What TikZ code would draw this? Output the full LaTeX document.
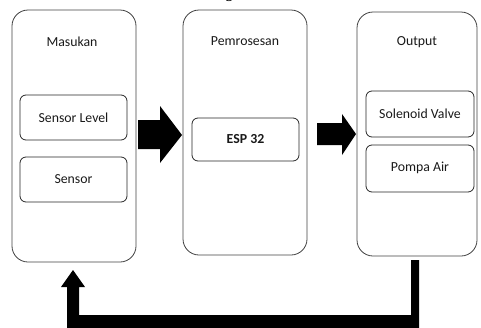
\documentclass[tikz,border=0pt]{standalone}
\usepackage{fontspec}
\setmainfont{Carlito}
\newfontfamily\titlefont{Liberation Serif}
\begin{document}
\begin{tikzpicture}[x=1pt,y=-1pt,
  bigbox/.style={draw=black!75,line width=0.8pt,rounded corners=16pt},
  smallbox/.style={draw=black!85,line width=0.8pt,rounded corners=6pt},
  lbl/.style={font=\fontsize{13.8}{16}\selectfont,text=black!90},
  fatarrow/.style={fill=black,draw=none}]
\useasboundingbox (0,0) rectangle (481,327);
\clip (0,0) rectangle (481,327);
\node[font=\titlefont\bfseries\fontsize{14}{16}\selectfont,anchor=base] at (229,-2) {g};
% big boxes
\draw[bigbox] (12,10) rectangle (136,262);
\draw[bigbox] (183,10) rectangle (307,255);
\draw[bigbox] (357,12) rectangle (477,256);
\node[lbl] (t1) at (72,42) {Masukan};
\node[lbl] (t2) at (245,41) {Pemrosesan};
\node[lbl] (t3) at (417,42) {Output};
% inner boxes
\draw[smallbox] (20,95) rectangle (127,140);
\node[lbl] (sl) at (73.5,117.5) {Sensor Level};
\draw[smallbox] (20,157) rectangle (127,202);
\node[lbl] (se) at (73.5,179.5) {Sensor};
\draw[smallbox] (192,118) rectangle (299,161);
\node[lbl,font=\bfseries\fontsize{13.8}{16}\selectfont] (esp) at (245.5,139.5) {ESP 32};
\draw[smallbox] (366,91) rectangle (474,137);
\node[lbl] (sv) at (420,114) {Solenoid Valve};
\draw[smallbox] (366,145) rectangle (474,192);
\node[lbl] (pa) at (420,168) {Pompa Air};
% arrows
\fill[fatarrow] (138,120) -- (160,120) -- (160,106) -- (182,135) -- (160,163) -- (160,149) -- (138,149) -- cycle;
\fill[fatarrow] (317,123) -- (342,123) -- (342,114) -- (356,134) -- (342,155) -- (342,145) -- (317,145) -- cycle;
% feedback
\fill[fatarrow] (411,260) -- (419,260) -- (419,330) -- (67,330) -- (67,287) -- (61,287) -- (73,270) -- (85,287) -- (79,287) -- (79,315) -- (411,315) -- cycle;
\end{tikzpicture}
\end{document}
